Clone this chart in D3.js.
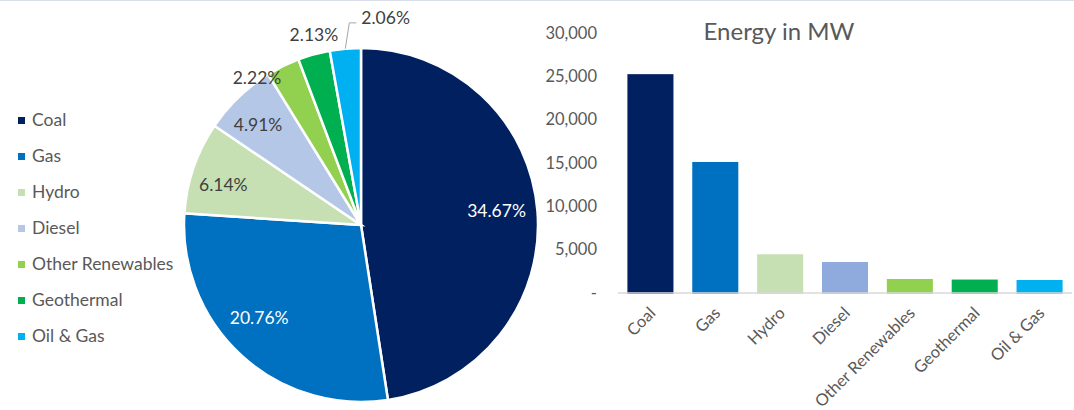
<!DOCTYPE html>
<html>
<head>
<meta charset="utf-8">
<script src="https://cdn.jsdelivr.net/npm/d3@7"></script>
<style>
  body { margin: 0; background: #fff; }
  text { font-family: Lato, "Open Sans", sans-serif; fill: #595959; }
</style>
</head>
<body>
<script>

// data
var categories = ["Coal", "Gas", "Hydro", "Diesel", "Other Renewables", "Geothermal", "Oil & Gas"];
var energyMW = [25250, 15120, 4470, 3575, 1617, 1551, 1500];
var pieLabels = ["34.67%", "20.76%", "6.14%", "4.91%", "2.22%", "2.13%", "2.06%"];
var yTicks = [0, 5000, 10000, 15000, 20000, 25000, 30000];

var pieColors = ["#002060", "#0070C0", "#C6E0B4", "#B4C7E7", "#92D050", "#00B050", "#00B0F0"];
var barColors = ["#002060", "#0070C0", "#C6E0B4", "#8FAADC", "#92D050", "#00B050", "#00B0F0"];

var window_w = 1074;
var window_h = 410;

var svg = d3.select("body").append("svg")
    .attr("width", window_w)
    .attr("height", window_h);

// thin frame line on top
svg.append("line")
    .attr("x1", 0).attr("x2", window_w)
    .attr("y1", 0.5).attr("y2", 0.5)
    .attr("stroke", "#D9DFEA")
    .attr("stroke-width", 1);

// ---------- legend ----------
var legend = svg.append("g").attr("transform", "translate(18,120)");
var items = legend.selectAll("g").data(categories)
    .enter().append("g")
    .attr("transform", function(d, i) { return "translate(0," + (i * 36) + ")"; });
items.append("rect")
    .attr("x", 0).attr("y", -3)
    .attr("width", 7).attr("height", 7)
    .attr("fill", function(d, i) { return pieColors[i]; });
items.append("text")
    .attr("x", 14)
    .attr("dy", "0.35em")
    .style("font-size", "17.5px")
    .text(function(d) { return d; });

// ---------- pie ----------
var cx = 361, cy = 225, R = 177;
var pie = d3.pie().sort(null).value(function(d) { return d; });
var arcs = pie(energyMW);
var arc = d3.arc().innerRadius(0).outerRadius(R);

var gPie = svg.append("g").attr("transform", "translate(" + cx + "," + cy + ")");
gPie.selectAll("path").data(arcs)
    .enter().append("path")
    .attr("d", arc)
    .attr("fill", function(d, i) { return pieColors[i]; })
    .attr("stroke", "#fff")
    .attr("stroke-width", 2.5);

function polar(angleDeg, r) {
  var a = angleDeg * Math.PI / 180;
  return [r * Math.sin(a), -r * Math.cos(a)];
}
function midDeg(d) { return (d.startAngle + d.endAngle) / 2 * 180 / Math.PI; }

// last slice gets a leader line, label sits to the right of it
var edge = polar(midDeg(arcs[6]), R);
var leadY = -R * 1.142;

// best-fit like placement (angle nudge in degrees, radius as fraction of R)
var nudgeA = [-1.6, 5, -2.8, -2.1, -9, 1.5];
var nudgeR = [0.77, 0.78, 0.81, 0.81, 1.02, 1.105];
var labelPos = arcs.map(function(d, i) {
  if (i < 6) return polar(midDeg(d) + nudgeA[i], R * nudgeR[i]);
  return [edge[0] + 16, leadY - 5];
});

gPie.selectAll("text.lbl").data(arcs)
    .enter().append("text")
    .attr("class", "lbl")
    .attr("x", function(d, i) { return labelPos[i][0]; })
    .attr("y", function(d, i) { return labelPos[i][1]; })
    .attr("dy", "0.35em")
    .attr("text-anchor", function(d, i) { return i === 6 ? "start" : "middle"; })
    .style("font-size", "17.5px")
    .style("fill", function(d, i) { return i < 2 ? "#fff" : "#404040"; })
    .text(function(d, i) { return pieLabels[i]; });

gPie.append("polyline")
    .attr("points", [edge, [edge[0] + 4, leadY], [edge[0] + 11, leadY]].map(function(p) { return p.join(","); }).join(" "))
    .attr("fill", "none")
    .attr("stroke", "#A6A6A6")
    .attr("stroke-width", 1);

// ---------- bar chart ----------
var margin = {left: 618, top: 33, right: 2, bottom: 117};
var frame_w = window_w - margin.left - margin.right;
var frame_h = window_h - margin.top - margin.bottom;

var xScale = d3.scaleBand().domain(categories).range([0, frame_w]).paddingInner(0.29).paddingOuter(0.145);
var yScale = d3.scaleLinear().domain([0, 30000]).range([frame_h, 0]);

var g = svg.append("g").attr("transform", "translate(" + margin.left + "," + margin.top + ")");

g.append("text")
    .attr("x", 161)
    .attr("y", -1)
    .attr("dy", "0.35em")
    .style("text-anchor", "middle")
    .style("font-size", "24px")
    .text("Energy in MW");

var yAxis = d3.axisLeft(yScale)
    .tickValues(yTicks)
    .tickSize(0)
    .tickPadding(21)
    .tickFormat(function(d) { return d === 0 ? "-" : d3.format(",")(d); });

var yAxisG = g.append("g").attr("class", "y axis").call(yAxis);
yAxisG.select(".domain").remove();
yAxisG.selectAll("text").style("font-size", "16.5px").style("fill", "#595959");

g.selectAll("rect.bar").data(energyMW)
    .enter().append("rect")
    .attr("class", "bar")
    .attr("x", function(d, i) { return xScale(categories[i]); })
    .attr("width", xScale.bandwidth())
    .attr("y", function(d) { return yScale(d); })
    .attr("height", function(d) { return frame_h - yScale(d) + 1; })
    .attr("fill", function(d, i) { return barColors[i]; });

g.append("line")
    .attr("x1", 0).attr("x2", frame_w)
    .attr("y1", frame_h).attr("y2", frame_h)
    .attr("stroke", "#D9D9D9")
    .attr("stroke-width", 1.5);

g.selectAll("text.xl").data(categories)
    .enter().append("text")
    .attr("class", "xl")
    .attr("transform", function(d) {
      return "translate(" + (xScale(d) + xScale.bandwidth() / 2 + 2) + "," + (frame_h + 17) + ") rotate(-45)";
    })
    .attr("dy", "0.35em")
    .style("text-anchor", "end")
    .style("font-size", "16.5px")
    .text(function(d) { return d; });

</script>
</body>
</html>
